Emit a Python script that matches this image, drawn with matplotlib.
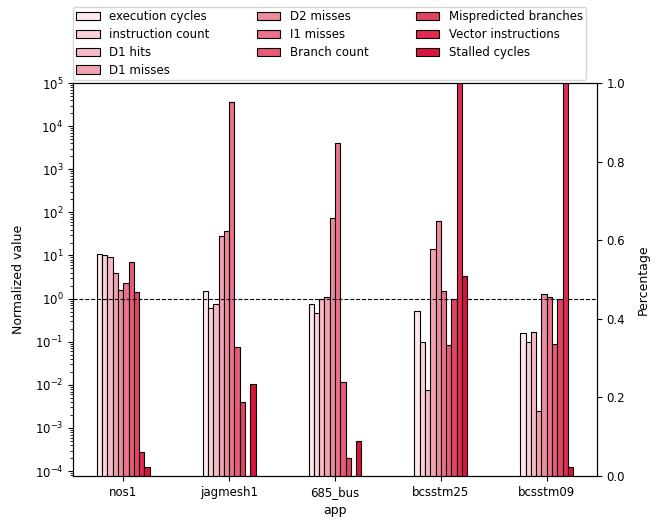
import matplotlib
matplotlib.use("Agg")
import matplotlib.pyplot as plt
import matplotlib.colors as mcolors
import matplotlib.ticker as mticker
import numpy as np

apps = ["nos1", "jagmesh1", "685_bus", "bcsstm25", "bcsstm09"]

# normalized counters (left, log axis)
execution_cycles = [10.9, 1.5, 0.77, 0.53, 0.16]
instruction_count = [10.5, 0.59, 0.46, 0.1, 0.1]
d1_hits = [9.1, 0.77, 1.0, 0.0078, 0.17]
d1_misses = [3.9, 29, 1.09, 14.3, 0.0025]
d2_misses = [1.55, 37, 75, 64, 1.3]
i1_misses = [2.25, 36600, 4000, 1.48, 1.07]
branch_count = [6.9, 0.074, 0.0115, 0.084, 0.087]
mispredicted = [1.45, 0.004, 0.000205, 1.0, 1.0]

# fractions (right axis)
vector_instr = [0.06, 0.0, 0.0, 1.0, 1.0]
stalled_cycles = [0.022, 0.233, 0.089, 0.509, 0.022]

left_series = [
    ("execution cycles", execution_cycles),
    ("instruction count", instruction_count),
    ("D1 hits", d1_hits),
    ("D1 misses", d1_misses),
    ("D2 misses", d2_misses),
    ("I1 misses", i1_misses),
    ("Branch count", branch_count),
    ("Mispredicted branches", mispredicted),
]
right_series = [
    ("Vector instructions", vector_instr),
    ("Stalled cycles", stalled_cycles),
]

n = len(left_series) + len(right_series)
cmap = mcolors.LinearSegmentedColormap.from_list("pinks", ["#fde8ec", "#dc143c"])
colors = [cmap(i / (n - 1)) for i in range(n)]

x = np.arange(len(apps))
w = 0.05

fig = plt.figure(figsize=(6.6, 5.2), dpi=100)
ax = fig.add_axes([73 / 660, 1 - 476 / 520, 524 / 660, 393 / 520])
ax2 = ax.twinx()

handles = []
for i, (name, vals) in enumerate(left_series):
    b = ax.bar(x + (i - 4.5) * w, vals, w, color=colors[i], edgecolor="black",
               linewidth=0.8, label=name)
    handles.append(b)
for j, (name, vals) in enumerate(right_series):
    i = len(left_series) + j
    b = ax2.bar(x + (i - 4.5) * w, vals, w, color=colors[i], edgecolor="black",
                linewidth=0.8, label=name)
    handles.append(b)

ax.set_yscale("log")
ax.set_ylim(7.7e-5, 1e5)
ax.yaxis.set_major_locator(mticker.LogLocator(base=10, numticks=20))
ax.yaxis.set_minor_locator(mticker.LogLocator(base=10, subs=np.arange(2, 10), numticks=20))
ax.yaxis.set_minor_formatter(mticker.NullFormatter())
ax.set_xlim(-0.475, 4.475)
ax2.set_ylim(0, 1)
ax.axhline(1, color="black", linestyle="--", linewidth=0.8)

ax.set_xticks(x)
ax.set_xticklabels(apps, fontsize=8.5)
ax.tick_params(axis="y", labelsize=8.5)
ax2.tick_params(axis="y", labelsize=8.5)
ax.set_xlabel("app", fontsize=9)
ax.set_ylabel("Normalized value", fontsize=9, labelpad=7)
ax2.set_ylabel("Percentage", fontsize=9, labelpad=8)

ax.legend(handles=handles, loc="lower center", bbox_to_anchor=(0.4895, 1.0),
          ncol=3, fontsize=8.5, borderaxespad=0.25, borderpad=0.3,
          labelspacing=0.4, columnspacing=4.0)

fig.savefig("out.png", dpi=100)
